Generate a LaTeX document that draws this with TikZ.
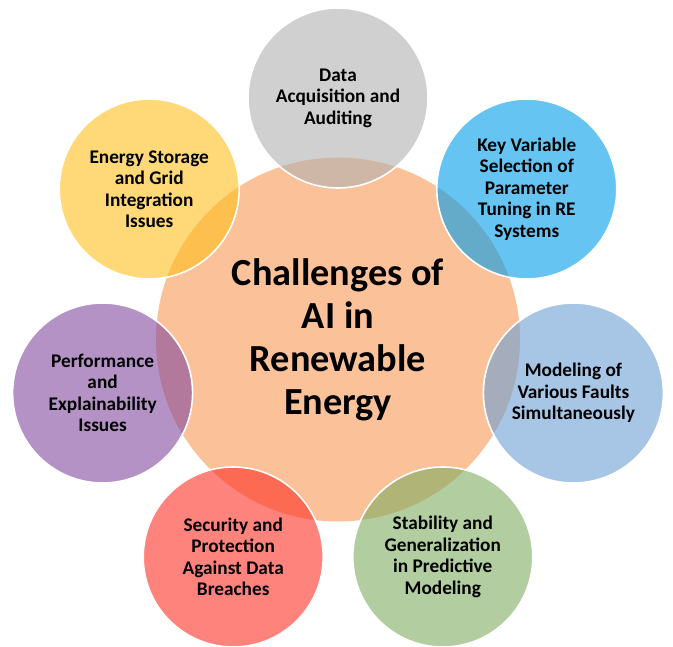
\documentclass[tikz,border=0pt]{standalone}
\usepackage{fontspec}
\setmainfont{Carlito}
\definecolor{peach}{RGB}{251,193,153}
\definecolor{cgray}{RGB}{177,177,177}
\definecolor{cblue}{RGB}{0,157,233}
\definecolor{clblue}{RGB}{108,158,212}
\definecolor{cgreen}{RGB}{127,172,97}
\definecolor{cred}{RGB}{255,48,38}
\definecolor{cpurple}{RGB}{130,73,160}
\definecolor{cyellow}{RGB}{255,192,30}
\tikzset{
  outer/.style={circle, minimum size=180pt, inner sep=0pt, fill=#1, fill opacity=0.6,
    text opacity=1, draw=white, line width=1.6pt, align=center, text=black,
    font=\fontsize{19.3}{21.5}\selectfont\bfseries},
  hub/.style={circle, minimum size=364pt, inner sep=0pt, fill=peach, align=center, text=black,
    font=\fontsize{38.3}{43}\selectfont\bfseries}
}
\begin{document}
\begin{tikzpicture}[x=1pt,y=-1pt]
\useasboundingbox (0,0) rectangle (673,647);
\node[hub] (hub) at (338,339.5) {Challenges of\\AI in\\Renewable\\Energy};
\node[outer=cgray] (c1) at (338,98) {Data\\Acquisition and\\Auditing};
\node[outer=cblue] (c2) at (526.8,189) {Key Variable\\Selection of\\Parameter\\Tuning in RE\\Systems};
\node[outer=clblue] (c3) at (573.4,393) {Modeling of\\Various Faults\\Simultaneously};
\node[outer=cgreen] (c4) at (442.8,557) {Stability and\\Generalization\\in Predictive\\Modeling};
\node[outer=cred] (c5) at (233.2,557) {Security and\\Protection\\Against Data\\Breaches};
\node[outer=cpurple] (c6) at (102.6,393) {Performance\\and\\Explainability\\Issues};
\node[outer=cyellow] (c7) at (149.2,189) {Energy Storage\\and Grid\\Integration\\Issues};
\end{tikzpicture}
\end{document}
